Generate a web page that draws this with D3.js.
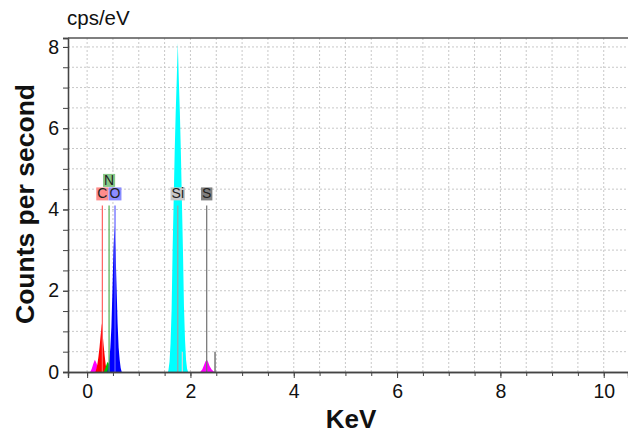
<!DOCTYPE html>
<html>
<head>
<meta charset="utf-8">
<script src="https://cdn.jsdelivr.net/npm/d3@7"></script>
<style>
  body { margin: 0; background: #fff; }
  text { font-family: "Liberation Sans", Arial, sans-serif; }
</style>
</head>
<body>
<svg id="drawing_region"></svg>
<script>
// spectrum peaks: [keV, cps]
const peakSL = [[0.06,0],[0.09,0.08],[0.12,0.2],[0.15,0.3],[0.18,0.22],[0.21,0.1],[0.24,0.03],[0.26,0]];
const peakC  = [[0.16,0],[0.18,0.08],[0.20,0.2],[0.22,0.38],[0.24,0.6],[0.26,0.88],[0.285,1.2],[0.30,0.95],[0.32,0.65],[0.34,0.4],[0.36,0.18],[0.38,0.05],[0.39,0]];
const peakN  = [[0.32,0],[0.35,0.08],[0.38,0.2],[0.40,0.25],[0.42,0.2],[0.45,0.08],[0.48,0]];
const peakO  = [[0.39,0],[0.41,0.1],[0.43,0.3],[0.45,0.6],[0.47,1.1],[0.49,2.0],[0.51,3.0],[0.53,3.6],[0.55,3.0],[0.57,2.1],[0.59,1.2],[0.61,0.6],[0.63,0.3],[0.65,0.1],[0.67,0]];
const peakSi = [[1.565,0],[1.575,0.05],[1.595,0.25],[1.615,0.7],[1.635,1.5],[1.655,3.0],[1.675,4.2],[1.695,5.4],[1.715,6.4],[1.735,7.2],[1.755,8.1],[1.775,7.2],[1.795,6.4],[1.815,5.4],[1.835,4.2],[1.855,3.0],[1.875,1.6],[1.895,0.8],[1.915,0.3],[1.935,0.08],[1.955,0]];
const peakSK = [[2.19,0],[2.23,0.07],[2.26,0.16],[2.29,0.26],[2.315,0.3],[2.34,0.25],[2.37,0.15],[2.41,0.06],[2.45,0.01],[2.47,0]];

// element markers
const markerNames    = ['C', 'N', 'O', 'Si', 'S'];
const markerEnergies = [0.295, 0.425, 0.54, 1.755, 2.315];
const markerRows     = [0, 1, 0, 0, 0];
const markerTop      = 4.1;
// K-beta markers
const betaEnergies = [1.843, 2.476];
const betaHeights  = [0.5, 0.5];

const xLabelTicks = [0, 2, 4, 6, 8, 10];
const yLabelTicks = [0, 2, 4, 6, 8];

var config = {
    parent: '#drawing_region',
    width: 628,
    height: 434,
    margin: { top: 38, right: 0, bottom: 62, left: 68 }
};

class EdsChart {

    constructor( config ) {
        this.config = config;
        this.init();
    }

    init() {
        let self = this;

        self.svg = d3.select( self.config.parent )
            .attr( 'width', self.config.width )
            .attr( 'height', self.config.height );

        self.inner_width = self.config.width - self.config.margin.left - self.config.margin.right;
        self.inner_height = self.config.height - self.config.margin.top - self.config.margin.bottom;

        self.chart = self.svg.append( 'g' )
            .attr( 'transform', `translate(${self.config.margin.left}, ${self.config.margin.top})` );

        self.xscale = d3.scaleLinear()
            .domain( [-0.37, 10.47] )
            .range( [0, self.inner_width] );

        self.yscale = d3.scaleLinear()
            .domain( [0, 8.22] )
            .range( [self.inner_height, 0] );

        self.area = d3.area()
            .x( d => self.xscale( d[0] ) )
            .y0( self.yscale( 0 ) )
            .y1( d => self.yscale( d[1] ) );
    }

    render() {
        let self = this;
        const xs = self.xscale, ys = self.yscale;
        const H = self.inner_height, W = self.inner_width;

        // grid every 0.5
        const gx = d3.range( 0, 10.5, 0.5 );
        const gy = d3.range( 0.5, 8.5, 0.5 );
        self.chart.append( 'g' ).selectAll( 'line' )
            .data( gx ).enter().append( 'line' )
            .attr( 'x1', d => xs( d ) ).attr( 'x2', d => xs( d ) )
            .attr( 'y1', 0 ).attr( 'y2', H )
            .attr( 'stroke', '#c8c8c8' ).attr( 'stroke-dasharray', '2,2' );
        self.chart.append( 'g' ).selectAll( 'line' )
            .data( gy ).enter().append( 'line' )
            .attr( 'x1', 0 ).attr( 'x2', W )
            .attr( 'y1', d => ys( d ) ).attr( 'y2', d => ys( d ) )
            .attr( 'stroke', '#c8c8c8' ).attr( 'stroke-dasharray', '2,2' );

        // peaks
        const peaks = [
            { d: peakSL, c: '#ff00ff' },
            { d: peakC,  c: '#ff0000' },
            { d: peakN,  c: '#00c000' },
            { d: peakO,  c: '#0000ff' },
            { d: peakSi, c: '#00ffff' },
            { d: peakSK, c: '#ff00ff' }
        ];
        self.chart.selectAll( '.peak' )
            .data( peaks ).enter().append( 'path' )
            .attr( 'd', p => self.area( p.d ) )
            .attr( 'fill', p => p.c );

        // marker lines
        const lineColors = ['#ff6060', '#50b050', '#6060ff', '#a0a0a0', '#707070'];
        const boxColors  = ['#ff8c8c', '#88c888', '#8c8cff', '#c8c8c8', '#808080'];
        const markers = markerNames.map( ( n, i ) => ({ name: n, e: markerEnergies[i], row: markerRows[i], lc: lineColors[i], bc: boxColors[i] }) );

        self.chart.selectAll( '.mline' )
            .data( markers ).enter().append( 'line' )
            .attr( 'x1', d => xs( d.e ) ).attr( 'x2', d => xs( d.e ) )
            .attr( 'y1', ys( markerTop ) ).attr( 'y2', ys( 0 ) )
            .attr( 'stroke', d => d.lc ).attr( 'stroke-width', 1.2 );

        const betaColors = ['#d8d8d8', '#555555'];
        self.chart.selectAll( '.bline' )
            .data( betaEnergies ).enter().append( 'line' )
            .attr( 'x1', d => xs( d ) ).attr( 'x2', d => xs( d ) )
            .attr( 'y1', ( d, i ) => ys( betaHeights[i] ) ).attr( 'y2', ys( 0 ) )
            .attr( 'stroke', ( d, i ) => betaColors[i] ).attr( 'stroke-width', 1.2 );

        // label boxes
        const lab = self.chart.selectAll( '.mlabel' )
            .data( markers ).enter().append( 'g' )
            .attr( 'transform', d => `translate(${xs( d.e )}, ${ys( markerTop ) - 5 - d.row * 13.5})` );
        lab.append( 'text' )
            .text( d => d.name )
            .attr( 'text-anchor', 'middle' )
            .attr( 'y', -2 )
            .style( 'font-size', '14px' )
            .attr( 'fill', '#222' )
            .each( function( d ) { d.bw = this.getComputedTextLength(); } );
        lab.insert( 'rect', 'text' )
            .attr( 'x', d => -d.bw / 2 - 1 )
            .attr( 'y', -13 )
            .attr( 'width', d => d.bw + 2 )
            .attr( 'height', 13 )
            .attr( 'fill', d => d.bc );

        // axes
        const xminor = d3.axisBottom( xs ).tickValues( d3.range( 0, 10.5, 0.5 ) ).tickSize( 4 ).tickFormat( '' );
        const xmajor = d3.axisBottom( xs ).tickValues( xLabelTicks ).tickSize( 6 ).tickPadding( 6 );
        const yminor = d3.axisLeft( ys ).tickValues( d3.range( 0, 8.5, 0.5 ) ).tickSize( 5 ).tickFormat( '' );
        const ymajor = d3.axisLeft( ys ).tickValues( yLabelTicks ).tickSize( 5 ).tickPadding( 4 );

        const axes = [
            self.chart.append( 'g' ).attr( 'transform', `translate(0, ${H})` ).call( xminor ),
            self.chart.append( 'g' ).attr( 'transform', `translate(0, ${H})` ).call( xmajor ),
            self.chart.append( 'g' ).call( yminor ),
            self.chart.append( 'g' ).call( ymajor )
        ];
        axes.forEach( a => {
            a.selectAll( 'path' ).attr( 'stroke', '#444' ).attr( 'stroke-width', 1.3 );
            a.selectAll( 'line' ).attr( 'stroke', '#444' );
            a.selectAll( 'text' ).style( 'font-size', '19.5px' ).attr( 'fill', '#111' )
                .style( 'font-family', '"Liberation Sans", Arial, sans-serif' );
        } );

        // top frame
        self.chart.append( 'line' )
            .attr( 'x1', 0 ).attr( 'x2', W ).attr( 'y1', 0 ).attr( 'y2', 0 )
            .attr( 'stroke', '#555' ).attr( 'stroke-width', 1.5 );

        // titles
        self.svg.append( 'text' )
            .text( 'cps/eV' )
            .attr( 'x', 67 ).attr( 'y', 25 )
            .style( 'font-size', '20.5px' ).attr( 'fill', '#111' );

        self.svg.append( 'text' )
            .text( 'Counts per second' )
            .attr( 'transform', 'translate(34, 204) rotate(-90)' )
            .attr( 'text-anchor', 'middle' )
            .style( 'font-size', '26.5px' ).style( 'font-weight', 'bold' ).attr( 'fill', '#111' );

        self.svg.append( 'text' )
            .text( 'KeV' )
            .attr( 'x', 351 ).attr( 'y', 428 )
            .attr( 'text-anchor', 'middle' )
            .style( 'font-size', '26px' ).style( 'font-weight', 'bold' ).attr( 'fill', '#111' );
    }
}

const eds_chart = new EdsChart( config );
eds_chart.render();
</script>
</body>
</html>
